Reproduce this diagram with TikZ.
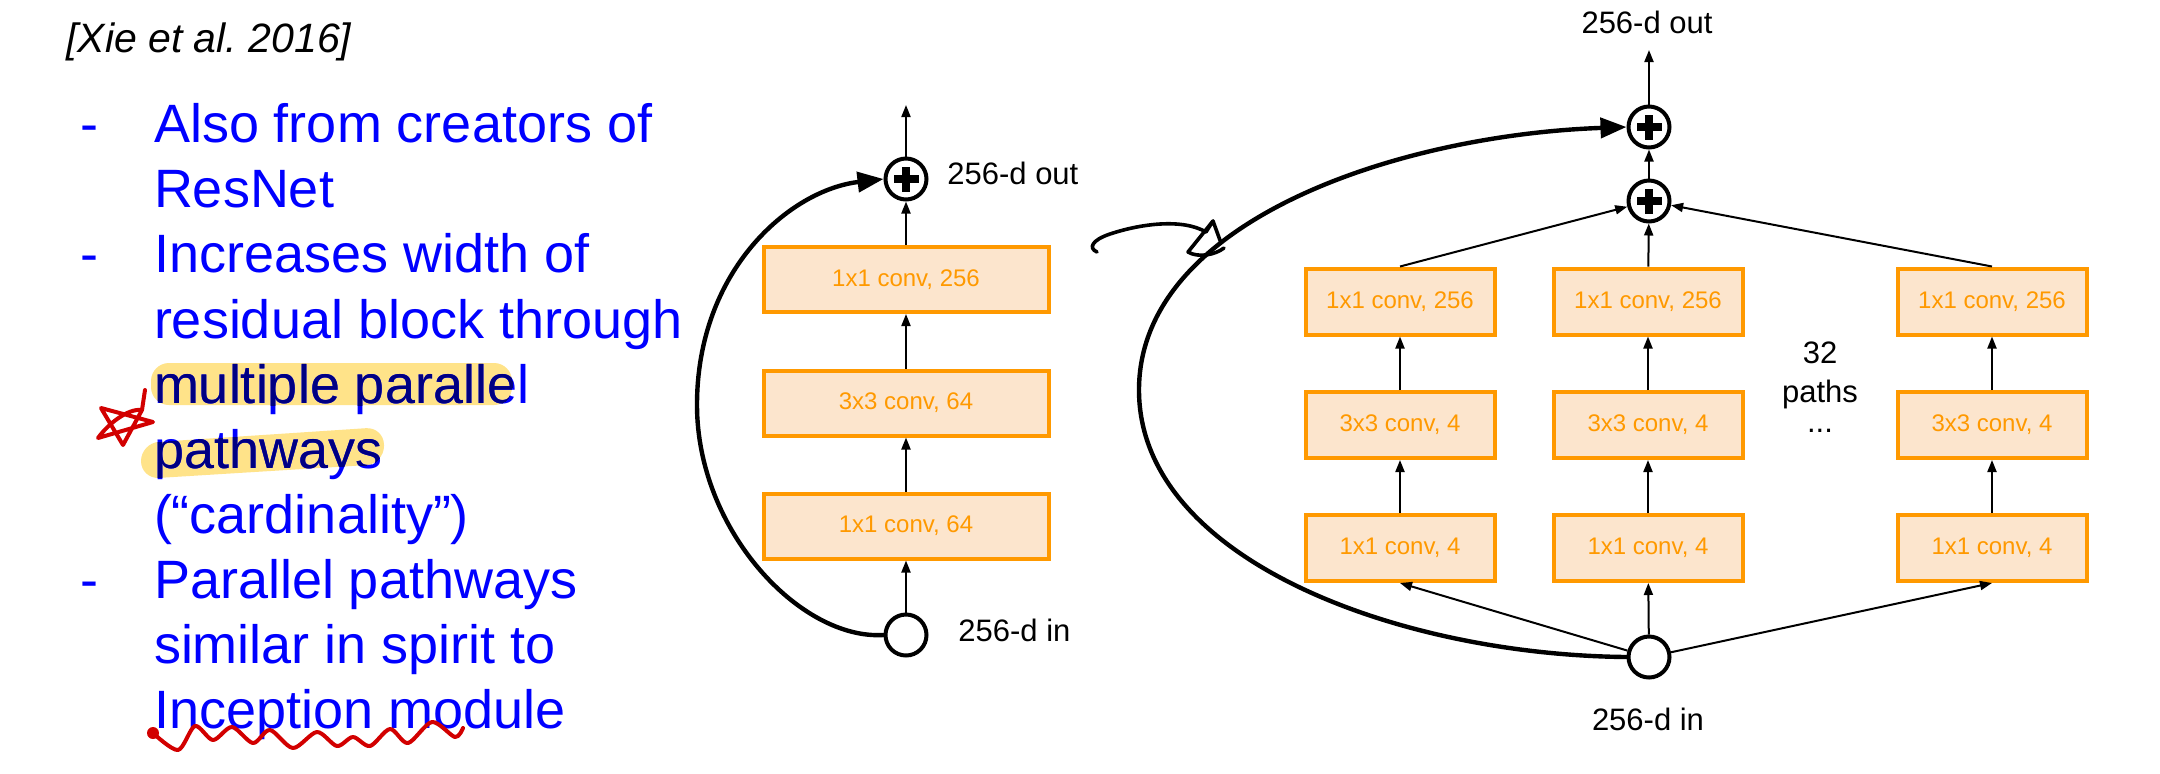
\documentclass[tikz,border=0pt]{standalone}
\usepackage{fontspec}
\setmainfont{Liberation Sans}
\usetikzlibrary{arrows.meta}
\definecolor{bluetxt}{RGB}{0,0,255}
\definecolor{navytxt}{RGB}{0,0,130}
\definecolor{hilite}{RGB}{255,227,137}
\definecolor{orng}{RGB}{255,153,0}
\definecolor{peach}{RGB}{252,229,205}
\definecolor{penred}{RGB}{210,0,0}
\begin{document}
\begin{tikzpicture}[x=0.5pt,y=-0.5pt,
 bl/.style={anchor=base west, inner sep=0pt, outer sep=0pt, text=bluetxt, font=\fontsize{27}{32}\selectfont},
 nv/.style={bl, text=navytxt},
 lab/.style={inner sep=0pt, font=\fontsize{15.5}{18}\selectfont, text=black},
 cbox/.style={draw=orng, fill=peach, line width=2pt, text=orng, font=\fontsize{12}{14}\selectfont, inner sep=0pt},
 lbox/.style={cbox, minimum width=142.5pt, minimum height=32.5pt},
 rbox/.style={cbox, minimum width=94.5pt, minimum height=33pt},
 circ/.style={circle, draw, line width=2pt, minimum size=20.5pt, inner sep=0pt, fill=white},
 plusc/.style={circ, path picture={
   \fill[black] ([xshift=-6.25pt,yshift=-2pt]path picture bounding box.center) rectangle ([xshift=6.25pt,yshift=2pt]path picture bounding box.center);
   \fill[black] ([xshift=-2pt,yshift=-6.25pt]path picture bounding box.center) rectangle ([xshift=2pt,yshift=6.25pt]path picture bounding box.center);}},
 arr/.style={line width=1pt, -{Triangle[length=6pt,width=4.5pt]}},
 skip/.style={line width=2.2pt, line cap=round, -{Triangle[length=13pt,width=10pt]}},
 pen/.style={line width=2pt, draw=penred, line cap=round, line join=round},
 hand/.style={line width=1.8pt, draw=black, line cap=round, line join=round}]
\useasboundingbox (0,0) rectangle (2160,773);
\fill[white] (0,0) rectangle (2160,773);

% ---------- left text ----------
\node[anchor=base west, inner sep=0pt, font=\fontsize{20.5}{24}\selectfont\itshape] (cite) at (66,52) {[Xie et al.\ 2016]};

\fill[hilite, rounded corners=9pt] (151,363) rectangle (512,405);
\fill[hilite, rounded corners=9pt] (141,443) -- (384,427) -- (384,464) -- (141,479) -- cycle;

\node[bl] (d1) at (80.5,142.7) {-};
\node[bl] (d3) at (80.5,272.9) {-};
\node[bl] (d8) at (80.5,598.4) {-};
\node[bl] (t1) at (154,142.7) {Also from creators of};
\node[bl] (t2) at (154,207.8) {ResNet};
\node[bl] (t3) at (154,272.9) {Increases width of};
\node[bl] (t4) at (154,338) {residual block through};
\node[bl] (t5) at (154,403.1) {multiple parallel};
\node[bl] (t6) at (154,468.2) {pathways};
\node[bl] (t7) at (154,533.3) {(“cardinality”)};
\node[bl] (t8) at (154,598.4) {Parallel pathways};
\node[bl] (t9) at (154,663.5) {similar in spirit to};
\node[bl] (t10) at (154,728.6) {Inception module};
\begin{scope}
 \clip[rounded corners=9pt] (151,363) rectangle (512,405);
 \node[nv] (t5n) at (154,403.1) {multiple parallel};
\end{scope}
\begin{scope}
 \clip[rounded corners=9pt] (141,443) -- (384,427) -- (384,464) -- (141,479) -- cycle;
 \node[nv] (t6n) at (154,468.2) {pathways};
\end{scope}

% red star
\draw[pen] (145,390) -- (142,410) .. controls (128,408) and (108,424) .. (98,438) -- (153,422) -- (101,408) -- (123,445) -- (142,410);
% red wavy underline
\fill[penred] (153,733) circle (3pt);
\draw[pen] plot[smooth, tension=0.5] coordinates {(153,733) (178,750) (195,726) (213,740) (232,727) (253,743) (270,730) (293,748) (317,732) (337,746) (353,737) (370,746) (390,729) (408,743) (432,722) (455,737) (463,728)};

% ---------- left block (ResNet) ----------
\node[plusc] (lp) at (906,179) {};
\coordinate (lout) at (906,105);
\node[lbox] (lb1) at (906,279.5) {1x1 conv, 256};
\node[lbox] (lb2) at (906,403) {3x3 conv, 64};
\node[lbox] (lb3) at (906,526) {1x1 conv, 64};
\node[circ] (lin) at (906,635) {};
\coordinate (lmid) at (697,405);
\node[lab, anchor=base west] (loutl) at (947,184) {256-d out};
\node[lab, anchor=base west] (linl) at (958,641) {256-d in};
\draw[arr] (lp) -- (lout);
\draw[arr] (lb1) -- (lp);
\draw[arr] (lb2) -- (lb1);
\draw[arr] (lb3) -- (lb2);
\draw[arr] (lin) -- (lb3);
\draw[skip] (lin.west) .. controls (800,640) and (697,530) .. (lmid) .. controls (697,270) and (790,190) .. (lp.west);

% hand-drawn arrow
\draw[hand] (1097,252) .. controls (1088,248) and (1092,240) .. (1110,234) .. controls (1140,224) and (1182,218) .. (1206,232);
\draw[hand] (1206,232) -- (1213,221) -- (1221,243);
\draw[hand] (1213,221) -- (1188,252) .. controls (1198,258) and (1215,255) .. (1224,248);

% ---------- right block (ResNeXt) ----------
\node[plusc] (rp1) at (1649,201) {};
\node[plusc] (rp2) at (1649,127) {};
\coordinate (rout) at (1649,50);
\node[lab, anchor=base] (routl) at (1647,33) {256-d out};

\node[rbox] (a1) at (1400,301.5) {1x1 conv, 256};
\node[rbox] (a2) at (1648,301.5) {1x1 conv, 256};
\node[rbox] (a3) at (1992,301.5) {1x1 conv, 256};
\node[rbox] (b1) at (1400,425) {3x3 conv, 4};
\node[rbox] (b2) at (1648,425) {3x3 conv, 4};
\node[rbox] (b3) at (1992,425) {3x3 conv, 4};
\node[rbox] (c1) at (1400,548) {1x1 conv, 4};
\node[rbox] (c2) at (1648,548) {1x1 conv, 4};
\node[rbox] (c3) at (1992,548) {1x1 conv, 4};

\node[circ] (rin) at (1649,657) {};
\coordinate (rmid) at (1139,390);
\node[lab, anchor=base] (rinl) at (1648,730) {256-d in};

\node[lab, anchor=base] (n32) at (1820,363) {32};
\node[lab, anchor=base] (npaths) at (1820,402) {paths};
\node[lab, anchor=base] (ndots) at (1820,432) {...};

\draw[arr] (rp2) -- (rout);
\draw[arr] (rp1) -- (rp2);
\draw[arr] (a1.north) -- (rp1);
\draw[arr] (a2) -- (rp1);
\draw[arr] (a3.north) -- (rp1);
\draw[arr] (b1) -- (a1);
\draw[arr] (b2) -- (a2);
\draw[arr] (b3) -- (a3);
\draw[arr] (c1) -- (b1);
\draw[arr] (c2) -- (b2);
\draw[arr] (c3) -- (b3);
\draw[arr] (rin) -- (c1.south);
\draw[arr] (rin) -- (c2);
\draw[arr] (rin) -- (c3.south);
\draw[skip] (rin.west) .. controls (1400,655) and (1139,560) .. (rmid) .. controls (1139,220) and (1400,135) .. (rp2.west);
\end{tikzpicture}
\end{document}
